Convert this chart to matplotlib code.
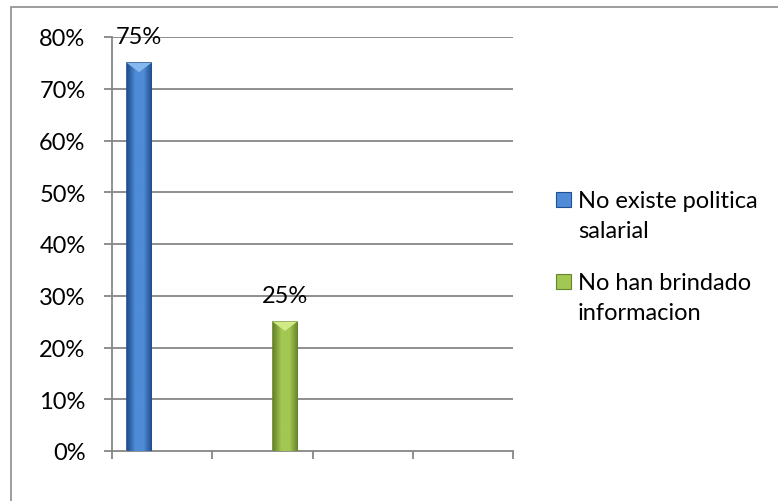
import numpy as np
import matplotlib.pyplot as plt
from matplotlib.colors import LinearSegmentedColormap
from matplotlib.patches import Polygon, Rectangle

# datos
series = ["No existe politica\nsalarial", "No han brindado\ninformacion"]
values = [0.75, 0.25]
slots = [0, 1]
y_ticks = [0, 0.1, 0.2, 0.3, 0.4, 0.5, 0.6, 0.7, 0.8]
y_labels = ["0%", "10%", "20%", "30%", "40%", "50%", "60%", "70%", "80%"]

# colores: borde oscuro, centro claro, tapa
palettes = [
    ("#1f4f8c", "#4f8bd6", "#86b8f0"),
    ("#66842b", "#a2c752", "#d2ea86"),
]
offsets = [-0.23, 0.225]
bar_w = 0.245

plt.rcParams['font.family'] = ['Lato', 'DejaVu Sans']
plt.rcParams['font.size'] = 17

fig = plt.figure(figsize=(7.78, 5.02), dpi=100)
ax = fig.add_axes([112 / 778, 50 / 502, 401 / 778, 414 / 502])

ax.set_xlim(-0.5, 3.5)
ax.set_ylim(0, 0.8)

grid_c = "#868686"
ax.set_yticks(y_ticks)
ax.set_yticklabels(y_labels)
ax.set_xticks([-0.5, 0.5, 1.5, 2.5, 3.5])
ax.set_xticklabels([])
for t in y_ticks[1:]:
    ax.axhline(t, color=grid_c, lw=1.3, zorder=0)
for side in ["top", "right"]:
    ax.spines[side].set_visible(False)
for side in ["left", "bottom"]:
    ax.spines[side].set_color(grid_c)
    ax.spines[side].set_linewidth(1.3)
ax.tick_params(axis="y", length=6, width=1.3, color=grid_c, pad=13, labelsize=17)
ax.tick_params(axis="x", length=6, width=1.3, color=grid_c)

for i, (s, v, slot) in enumerate(zip(series, values, slots)):
    dark, mid, light = palettes[i]
    xc = slot + offsets[i]
    x0, x1 = xc - bar_w / 2, xc + bar_w / 2
    bar = ax.bar(xc, v, width=bar_w, color=mid, edgecolor=dark, lw=1.2, zorder=2)[0]
    cmap = LinearSegmentedColormap.from_list("g", [dark, mid, mid, dark])
    grad = np.linspace(0, 1, 64).reshape(1, -1)
    im = ax.imshow(grad, cmap=cmap, extent=[x0, x1, 0, v], aspect="auto", zorder=3)
    im.set_clip_path(bar)
    # tapa biselada
    d = 0.018
    ax.add_patch(Polygon([[x0, v], [x1, v], [xc, v - d]], closed=True,
                         facecolor=light, edgecolor="none", zorder=4))
    ax.annotate(f"{v:.0%}", (xc, v), xytext=(0, 19), textcoords="offset points",
                ha="center", va="center", fontsize=17, zorder=5,
                annotation_clip=False)

# leyenda
leg_y = [200, 282]
for i, s in enumerate(series):
    dark, mid, light = palettes[i]
    y = 1 - leg_y[i] / 502
    fig.patches.append(Rectangle((556 / 778, y - 7.5 / 502), 15 / 778, 15 / 502,
                                 transform=fig.transFigure, facecolor=mid,
                                 edgecolor=dark, lw=0.8))
    fig.text(578 / 778, y - 16.5 / 502, s, ha="left", va="center", fontsize=17,
             linespacing=1.55)

# marco del grafico
fig.patches.append(Rectangle((11 / 778, -0.05), 1.0, 1 - 8 / 502 + 0.05,
                             transform=fig.transFigure, fill=False,
                             edgecolor="#8c8c8c", lw=1.2))

fig.savefig("out.png", dpi=100)
